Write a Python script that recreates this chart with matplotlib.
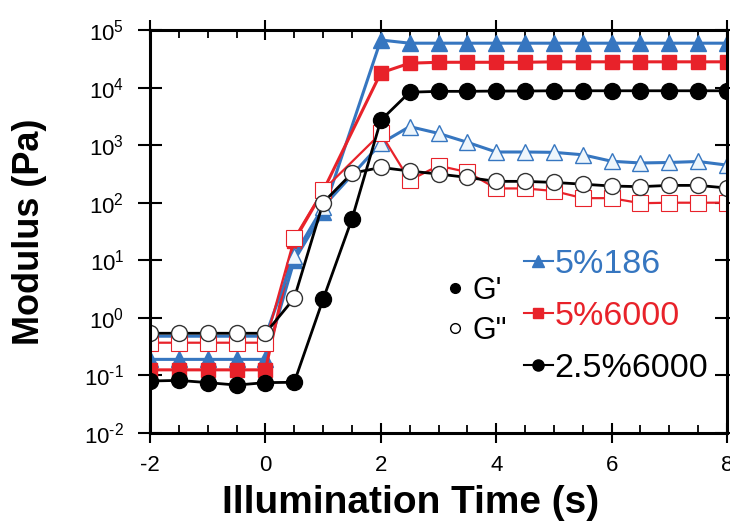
import matplotlib
matplotlib.use("Agg")
import matplotlib.pyplot as plt
from matplotlib.lines import Line2D
from matplotlib.ticker import MultipleLocator, NullLocator

plt.rcParams['font.family'] = ['Liberation Sans', 'DejaVu Sans']
plt.rcParams['mathtext.fontset'] = 'custom'
plt.rcParams['mathtext.rm'] = 'Liberation Sans'
plt.rcParams['axes.unicode_minus'] = False

# 数据
t_all = [-2, -1.5, -1, -0.5, 0, 0.5, 1, 1.5, 2, 2.5, 3, 3.5, 4, 4.5, 5, 5.5, 6, 6.5, 7, 7.5, 8]
t_skip = [-2, -1.5, -1, -0.5, 0, 0.5, 1, 2, 2.5, 3, 3.5, 4, 4.5, 5, 5.5, 6, 6.5, 7, 7.5, 8]

# 5%186
g1_186 = [0.19, 0.19, 0.19, 0.19, 0.19, 10, 68, 67000, 59000, 59000, 59000, 59000,
          59000, 59000, 59000, 59000, 59000, 59000, 59000, 59000]
g2_186 = [0.48, 0.48, 0.48, 0.48, 0.48, 12, 85, 1070, 2100, 1600, 1120, 760,
          760, 750, 680, 525, 490, 500, 520, 450]
# 5%6000
g1_6000 = [0.125, 0.125, 0.125, 0.125, 0.125, 22, 160, 18000, 26500, 27500, 27500, 27500,
           27500, 28000, 28000, 28000, 28000, 28000, 28000, 28000]
g2_6000 = [0.37, 0.37, 0.37, 0.37, 0.37, 24, 165, 1600, 245, 440, 340, 177,
           177, 160, 120, 120, 98, 100, 100, 100]
# 2.5%6000
g1_25 = [0.080, 0.082, 0.075, 0.068, 0.075, 0.076, 2.1, 52, 2700, 8300, 8600, 8600,
         8700, 8700, 8800, 8800, 8800, 8800, 8800, 8800, 8800]
g2_25 = [0.54, 0.54, 0.54, 0.54, 0.54, 2.2, 100, 325, 410, 355, 315, 275,
         235, 235, 225, 210, 195, 190, 200, 200, 180]

exponents = [-2, -1, 0, 1, 2, 3, 4, 5]
series_names = ['5%186', '5%6000', '2.5%6000']
g_names = ["G'", 'G"']

blue = '#3676c0'
red = '#e8222a'

fig = plt.figure(figsize=(7.3, 5.27), dpi=100)
ax = fig.add_axes([150 / 730, 1 - 433 / 527, 577 / 730, 403 / 527])

ax.plot(t_skip, g1_186, '-^', color=blue, lw=2.2, ms=11, mec=blue, mfc=blue)
ax.plot(t_skip, g1_6000, '-s', color=red, lw=2.2, ms=10, mec=red, mfc=red)
ax.plot(t_skip, g2_186, '-^', color=blue, lw=2.2, ms=11, mec=blue, mfc='#eef6fc', mew=1.0)
ax.plot(t_skip, g2_6000, '-s', color=red, lw=1.6, ms=11, mec=red, mfc='white', mew=0.8)
ax.plot(t_all, g2_25, '-o', color='black', lw=2.0, ms=11.5, mec='#333333', mfc='white', mew=1.0)
ax.plot(t_all, g1_25, '-o', color='black', lw=2.0, ms=11.5, mec='black', mfc='black')

ax.set_yscale('log')
ax.set_xlim(-2, 8)
ax.set_ylim(1e-2, 1e5)
ax.set_xticks(range(-2, 9, 2))
ax.xaxis.set_minor_locator(MultipleLocator(0.5))
ax.set_yticks([10.0 ** p for p in exponents])
ax.set_yticklabels([r'$\mathregular{10^{\text{%d}}}$' % p for p in exponents])
ax.yaxis.set_minor_locator(NullLocator())

for s in ax.spines.values():
    s.set_linewidth(2.2)
ax.tick_params(axis='x', which='major', direction='inout', length=14, width=1.5,
               top=True, labelsize=16, pad=9)
ax.tick_params(axis='x', which='minor', direction='in', length=6, width=1.3, top=True)
ax.tick_params(axis='y', which='major', direction='inout', length=17, width=1.5,
               right=True, labelsize=16, pad=10)

fig.text(411 / 730, 1 - 503 / 527, 'Illumination Time (s)', fontsize=28,
         fontweight='bold', ha='center', va='center')
fig.text(30 / 730, 1 - 232 / 527, 'Modulus (Pa)', fontsize=26, fontweight='bold',
         rotation=90, ha='center', va='center')

# 图例
h_series = [Line2D([], [], color=blue, marker='^', ms=8, lw=1.5),
            Line2D([], [], color=red, marker='s', ms=7, lw=1.5),
            Line2D([], [], color='black', marker='o', ms=8, lw=1.5)]
leg1 = ax.legend(h_series, series_names, loc='upper left',
                 bbox_to_anchor=(524 / 730, 1 - 249 / 527), bbox_transform=fig.transFigure,
                 frameon=False, fontsize=24.5, handlelength=0.85, handletextpad=0.05,
                 labelspacing=0.62, borderpad=0, borderaxespad=0,
                 labelcolor=[blue, red, 'black'])
ax.add_artist(leg1)

h_g = [Line2D([], [], color='black', marker='o', ms=7, lw=0),
       Line2D([], [], color='black', marker='o', ms=7, lw=0, mfc='white', mew=1.0)]
ax.legend(h_g, g_names, loc='upper left',
          bbox_to_anchor=(443 / 730, 1 - 276 / 527), bbox_transform=fig.transFigure,
          frameon=False, fontsize=22, handlelength=0.8, handletextpad=0.15,
          labelspacing=0.32, borderpad=0, borderaxespad=0)

fig.savefig('out.png', dpi=100)
